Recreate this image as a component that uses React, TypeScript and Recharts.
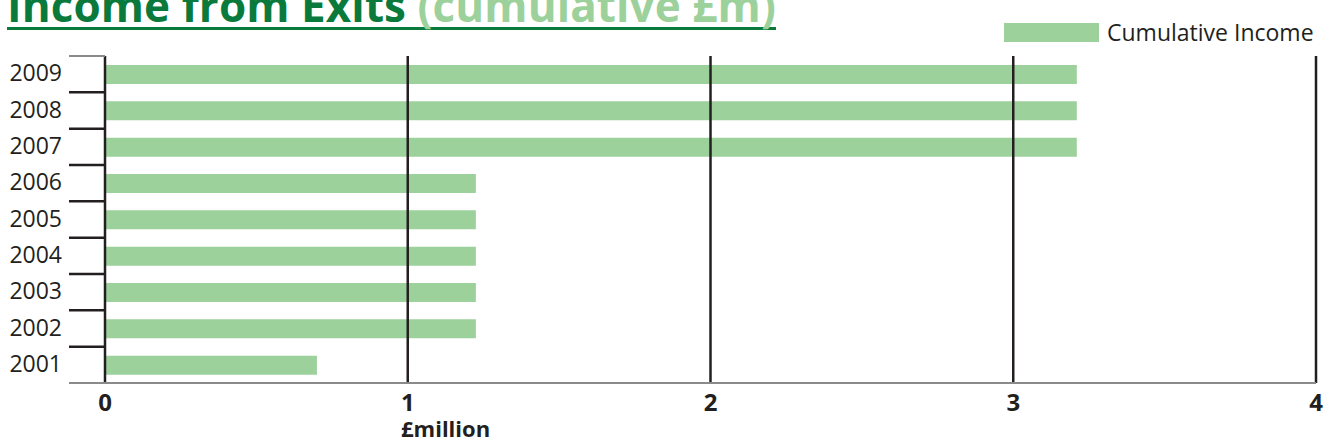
import { Bar, BarChart, ReferenceLine, XAxis, YAxis } from 'recharts';

const years = ['2009', '2008', '2007', '2006', '2005', '2004', '2003', '2002', '2001'];
const cumulativeIncome = [3.21, 3.21, 3.21, 1.225, 1.225, 1.225, 1.225, 1.225, 0.7];
const xTicks = [0, 1, 2, 3, 4];

const W = 1323;
const H = 441;
const M = { top: 56, right: 7, bottom: 0, left: 0 };
const Y_AXIS_W = 105;
const X_AXIS_H = 58;
const FONT = '"Open Sans", "Noto Sans", sans-serif';
const INK = '#231f20';
const RULE = '#8a8a8a';
const BAR = '#9dd19b';
const DARK_GREEN = '#0a7a3c';

const data = years.map((year, i) => ({ year, income: cumulativeIncome[i] }));

const band = (H - M.top - M.bottom - X_AXIS_H) / years.length;

// year label plus the little separators that stick out left of the plot
function YearTick(props: any) {
  const { y, payload, index } = props;
  const last = index === years.length - 1;
  return (
    <g>
      {index === 0 && (
        <line x1={69} x2={Y_AXIS_W} y1={y - band / 2} y2={y - band / 2} stroke={RULE} strokeWidth={2} />
      )}
      <line
        x1={69}
        x2={Y_AXIS_W}
        y1={y + band / 2}
        y2={y + band / 2}
        stroke={last ? RULE : INK}
        strokeWidth={last ? 2 : 2.5}
      />
      <text
        x={62}
        y={y - 2}
        textAnchor="end"
        dominantBaseline="central"
        fontFamily={FONT}
        fontSize={23}
        fill={INK}
      >
        {payload.value}
      </text>
    </g>
  );
}

export default function App() {
  return (
    <div
      style={{
        position: 'absolute',
        left: 0,
        top: 0,
        width: W,
        height: H,
        overflow: 'hidden',
        background: '#fff',
        fontFamily: FONT,
      }}
    >
      <div
        style={{
          position: 'absolute',
          left: 7,
          top: -17,
          display: 'inline-block',
          whiteSpace: 'nowrap',
          fontSize: 44,
          lineHeight: '44px',
          fontWeight: 700,
          letterSpacing: 0.1,
          color: DARK_GREEN,
          borderBottom: `3px solid ${DARK_GREEN}`,
        }}
      >
        Income from Exits <span style={{ color: BAR }}>(cumulative £m)</span>
      </div>

      <div
        style={{
          position: 'absolute',
          left: 1004,
          top: 16,
          display: 'flex',
          alignItems: 'center',
          whiteSpace: 'nowrap',
          fontSize: 23,
          color: INK,
        }}
      >
        <span style={{ display: 'inline-block', width: 95, height: 19, background: BAR, marginRight: 8 }} />
        Cumulative Income
      </div>

      <div style={{ position: 'absolute', left: 0, top: 0 }}>
        <BarChart width={W} height={H} data={data} layout="vertical" margin={M} barSize={19}>
          <XAxis
            type="number"
            domain={[0, 4]}
            ticks={xTicks}
            height={X_AXIS_H}
            axisLine={{ stroke: RULE, strokeWidth: 2 }}
            tickLine={false}
            tickMargin={5}
            tick={{ fontFamily: FONT, fontSize: 24, fontWeight: 700, fill: INK }}
            label={{
              value: '£million',
              position: 'insideBottomLeft',
              dx: 292,
              offset: 4,
              style: { fontFamily: FONT, fontSize: 22, fontWeight: 700, fill: INK },
            }}
          />
          <XAxis
            xAxisId="top"
            orientation="top"
            type="number"
            domain={[0, 4]}
            height={0}
            tick={false}
            tickLine={false}
            axisLine={{ stroke: RULE, strokeWidth: 2 }}
          />
          <YAxis
            type="category"
            dataKey="year"
            width={Y_AXIS_W}
            axisLine={false}
            tickLine={false}
            interval={0}
            tick={<YearTick />}
          />
          <Bar dataKey="income" fill={BAR} isAnimationActive={false} />
          {xTicks.map((t) => (
            <ReferenceLine key={t} x={t} stroke={INK} strokeWidth={2.5} />
          ))}
        </BarChart>
      </div>
    </div>
  );
}
